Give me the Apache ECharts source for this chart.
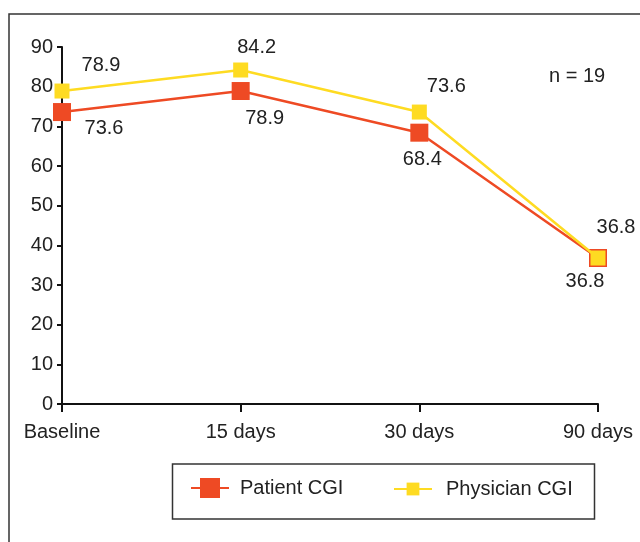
<!DOCTYPE html>
<html>
<head>
<meta charset="utf-8">
<script src="https://cdn.jsdelivr.net/npm/echarts@6/dist/echarts.min.js"></script>
<style>
html,body{margin:0;padding:0;background:#fff;}
#chart{width:640px;height:542px;}
</style>
</head>
<body>
<div id="chart"></div>
<script>
// Data
const categories = ['Baseline', '15 days', '30 days', '90 days'];
const patientCGI = [73.6, 78.9, 68.4, 36.8];
const physicianCGI = [78.9, 84.2, 73.6, 36.8];
const yTicks = [0, 10, 20, 30, 40, 50, 60, 70, 80, 90];
const seriesNames = ['Patient CGI', 'Physician CGI'];
const noteText = 'n = 19';

// Label layout (offsets from each point, in pixels)
const patientLabelOffsets = [[42, 16], [24, 27], [3, 27], [-13, 23]];
const physicianLabelOffsets = [[39, -26], [16, -23], [27, -26], [18, -31]];

const FONT = '"Liberation Sans", Arial, Helvetica, sans-serif';
const TEXT = '#222';
const RED = '#ee4a24';
const YELLOW = '#fedb22';

function items(vals, offs) {
  return vals.map((v, i) => ({ value: v, label: { offset: offs[i] } }));
}

const chart = echarts.init(document.getElementById('chart'), null, { renderer: 'canvas' });
chart.setOption({
  animation: false,
  backgroundColor: '#fff',
  textStyle: { fontFamily: FONT },
  grid: { left: 62, right: 42, top: 47, bottom: 138, containLabel: false },
  xAxis: {
    type: 'category',
    data: categories,
    boundaryGap: false,
    axisLine: { lineStyle: { color: '#111', width: 2 } },
    axisTick: { show: true, length: 8, lineStyle: { color: '#111', width: 2 } },
    axisLabel: { color: TEXT, fontSize: 20, fontFamily: FONT, margin: 18 },
    splitLine: { show: false }
  },
  yAxis: {
    type: 'value',
    min: yTicks[0],
    max: yTicks[yTicks.length - 1],
    interval: yTicks[1] - yTicks[0],
    axisLine: { show: true, lineStyle: { color: '#111', width: 2 } },
    axisTick: { show: true, length: 5, lineStyle: { color: '#111', width: 2 } },
    axisLabel: { color: TEXT, fontSize: 20, fontFamily: FONT, margin: 9 },
    splitLine: { show: false }
  },
  legend: [
    {
      data: [seriesNames[0]],
      left: 190, top: 478, padding: 0,
      itemWidth: 38, itemHeight: 25,
      textStyle: { color: TEXT, fontSize: 20, fontFamily: FONT, padding: [0, 0, 0, 6] },
      selectedMode: false
    },
    {
      data: [seriesNames[1]],
      left: 393, top: 479, padding: 0,
      itemWidth: 38, itemHeight: 16,
      textStyle: { color: TEXT, fontSize: 20, fontFamily: FONT, padding: [0, 0, 0, 9] },
      selectedMode: false
    }
  ],
  graphic: [
    {
      type: 'rect', silent: true, z: -1,
      shape: { x: 9, y: 14, width: 700, height: 600 },
      style: { fill: 'none', stroke: '#333', lineWidth: 1.5 }
    },
    {
      type: 'rect', silent: true, z: -1,
      shape: { x: 172.5, y: 464, width: 422, height: 55 },
      style: { fill: 'none', stroke: '#333', lineWidth: 1.5 }
    },
    {
      type: 'text', left: 549, top: 66,
      style: { text: noteText, fill: TEXT, font: '20px ' + FONT }
    }
  ],
  series: [
    {
      name: seriesNames[0],
      type: 'line',
      data: items(patientCGI, patientLabelOffsets),
      symbol: 'rect',
      symbolSize: 18,
      lineStyle: { color: RED, width: 2.5 },
      itemStyle: { color: RED },
      label: { show: true, position: 'inside', color: TEXT, fontSize: 20, fontFamily: FONT, formatter: p => p.value.toFixed(1) },
      z: 2
    },
    {
      name: seriesNames[1],
      type: 'line',
      data: items(physicianCGI, physicianLabelOffsets),
      symbol: 'rect',
      symbolSize: 15,
      lineStyle: { color: YELLOW, width: 2.5 },
      itemStyle: { color: YELLOW },
      label: { show: true, position: 'inside', color: TEXT, fontSize: 20, fontFamily: FONT, formatter: p => p.value.toFixed(1) },
      z: 3
    }
  ]
});
</script>
</body>
</html>
